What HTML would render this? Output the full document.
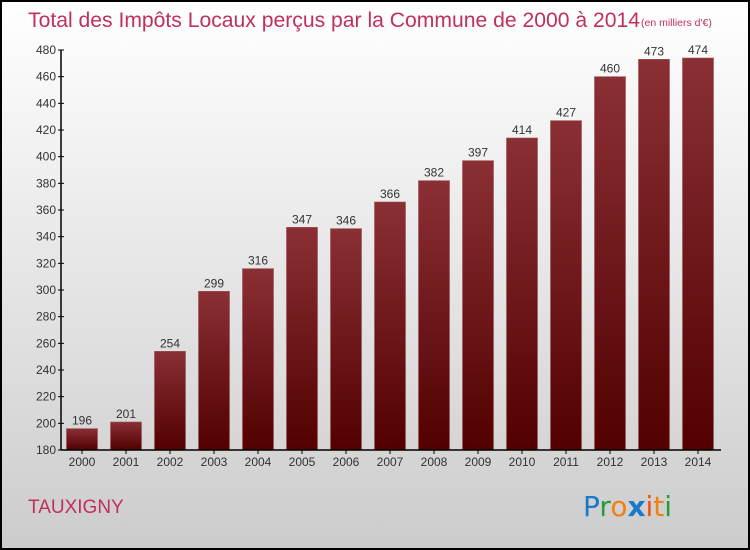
<!DOCTYPE html>
<html><head><meta charset="utf-8"><style>
body{margin:0;}
svg{display:block;font-family:"Liberation Sans",sans-serif;}
</style></head><body>
<svg id="c" width="750" height="550" xmlns="http://www.w3.org/2000/svg">
<defs>
<linearGradient id="bg" x1="0" y1="0" x2="0" y2="1"><stop offset="0" stop-color="#ffffff"/><stop offset="1" stop-color="#cccccc"/></linearGradient>
<linearGradient id="bar" x1="0" y1="0" x2="0" y2="1"><stop offset="0" stop-color="#8a3035"/><stop offset="1" stop-color="#520000"/></linearGradient>
</defs>
<rect x="1" y="1" width="748" height="548" fill="url(#bg)" stroke="#000" stroke-width="2"/>
<text x="28" y="27" font-size="21" fill="#c0305a" textLength="612" lengthAdjust="spacingAndGlyphs">Total des Impôts Locaux perçus par la Commune de 2000 à 2014</text>
<text x="641" y="26" font-size="10.5" fill="#c0305a">(en milliers d'€)</text>
<text x="28" y="513" font-size="19" fill="#c0305a">TAUXIGNY</text>
<g font-size="28" font-family="'DejaVu Sans',sans-serif">
<text x="583" y="516"><tspan fill="#1a78c8">P</tspan><tspan fill="#2a9a40">r</tspan><tspan fill="#f08010">o</tspan><tspan fill="#1a78c8" font-weight="bold">x</tspan><tspan fill="#f05010">i</tspan><tspan fill="#f08010">t</tspan><tspan fill="#2a9a40">i</tspan></text>
</g>
<g id="plot"></g>
</svg>
<script>
const years=["2000","2001","2002","2003","2004","2005","2006","2007","2008","2009","2010","2011","2012","2013","2014"];
const values=[196,201,254,299,316,347,346,366,382,397,414,427,460,473,474];
const yTicks=[180,200,220,240,260,280,300,320,340,360,380,400,420,440,460,480];
const NS="http://www.w3.org/2000/svg";
const g=document.getElementById('plot');
const y=v=>450-(v-180)*400/300;
const x=i=>82+44*i;
function mk(t,a){const e=document.createElementNS(NS,t);for(const k in a)e.setAttribute(k,a[k]);g.appendChild(e);return e;}
values.forEach((v,i)=>{
 const r=mk('rect',{x:x(i)-15.5,y:y(v),width:31,height:450-y(v),fill:'url(#bar)',stroke:'#a05050','stroke-width':0.6});
 
 
 const t=mk('text',{x:x(i),y:y(v)-4,'text-anchor':'middle','font-size':12,fill:'#333'});
 t.textContent=v;
 
 
 const xl=mk('text',{x:x(i),y:466,'text-anchor':'middle','font-size':12,fill:'#333'});
 xl.textContent=years[i];
 
 
 mk('line',{x1:x(i),x2:x(i),y1:450,y2:454,stroke:'#000'});
});
yTicks.forEach(v=>{
 mk('line',{x1:58,x2:64,y1:y(v),y2:y(v),stroke:'#000'});
 const t=mk('text',{x:56,y:y(v)+4,'text-anchor':'end','font-size':12,fill:'#333'});
 t.textContent=v;
 
 
});
const ya=mk('line',{x1:61,x2:61,y1:50,y2:450,stroke:'#000','stroke-width':1.5});


const xa=mk('line',{x1:61,x2:721,y1:450,y2:450,stroke:'#000','stroke-width':1.5});


</script>
</body></html>
